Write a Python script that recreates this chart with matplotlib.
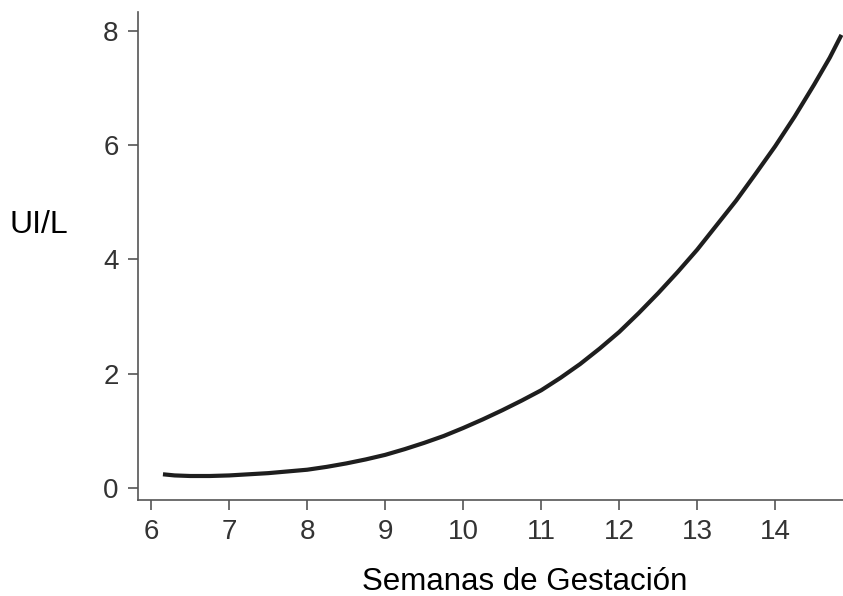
import matplotlib.pyplot as plt

plt.rcParams['font.family'] = ['Liberation Sans', 'DejaVu Sans']

# curve (weeks of gestation vs UI/L)
semanas = [6.15, 6.3, 6.5, 6.75, 7.0, 7.25, 7.5, 7.75, 8.0, 8.25, 8.5, 8.75,
           9.0, 9.25, 9.5, 9.75, 10.0, 10.25, 10.5, 10.75, 11.0, 11.25, 11.5,
           11.75, 12.0, 12.25, 12.5, 12.75, 13.0, 13.25, 13.5, 13.75, 14.0,
           14.25, 14.5, 14.7, 14.85]
ui_l = [0.24, 0.22, 0.21, 0.21, 0.22, 0.24, 0.26, 0.29, 0.32, 0.37, 0.43, 0.50,
        0.58, 0.68, 0.79, 0.91, 1.05, 1.20, 1.36, 1.53, 1.71, 1.93, 2.17,
        2.44, 2.73, 3.06, 3.41, 3.78, 4.17, 4.60, 5.03, 5.50, 5.98,
        6.50, 7.06, 7.53, 7.93]

x_ticks = [6, 7, 8, 9, 10, 11, 12, 13, 14]
y_ticks = [0, 2, 4, 6, 8]

fig = plt.figure(figsize=(8.43, 5.96), dpi=100)
ax = fig.add_axes([138 / 843, 1 - 500 / 596, 1 - 138 / 843, 488 / 596])

ax.plot(semanas, ui_l, color='#1e1e1e', lw=3.0, solid_capstyle='butt')

ax.set_xlim(5.83, 14.87)
ax.set_ylim(-0.21, 8.33)
ax.set_xticks(x_ticks)
ax.set_yticks(y_ticks)

for side in ['top', 'right']:
    ax.spines[side].set_visible(False)
for side in ['left', 'bottom']:
    ax.spines[side].set_color('#555555')
    ax.spines[side].set_linewidth(1.2)

ax.tick_params(axis='both', length=7, width=1.2, color='#555555',
               labelsize=20, labelcolor='#333333', pad=7)

fig.text(525 / 843, 1 - 582 / 596, 'Semanas de Gestación', fontsize=22.5,
         ha='center', va='center', color='black')
fig.text(10 / 843, 1 - 225 / 596, 'UI/L', fontsize=23,
         ha='left', va='center', color='black')

fig.savefig('out.png', dpi=100)
